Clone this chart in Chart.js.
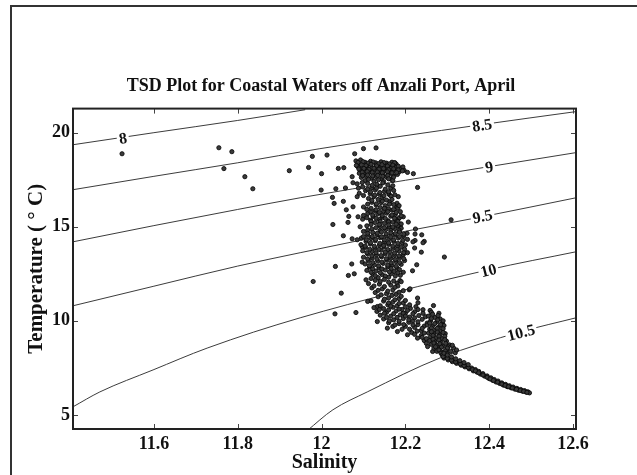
<!DOCTYPE html>
<html>
<head>
<meta charset="utf-8">
<script src="https://cdn.jsdelivr.net/npm/chart.js@4.4.1/dist/chart.umd.min.js"></script>
<style>
  html, body { margin: 0; padding: 0; background: #fff; }
  canvas { display: block; }
</style>
</head>
<body>
<canvas id="tsd" width="637" height="475"></canvas>
<script>
// Axis ticks
// --------------------------------------------
const salTicks = [11.6, 11.8, 12, 12.2, 12.4, 12.6]
const tempTicks = [5, 10, 15, 20]

// Density (sigma-t) contours
// --------------------------------------------
const sigmaLevels = ['8', '8.5', '9', '9.5', '10', '10.5']
const sigma8Sal = [11.407, 11.6, 11.8, 11.961]
const sigma8Temp = [19.36, 20.0, 20.65, 21.22]
const sigma85Sal = [11.407, 11.6, 11.8, 11.996, 12.383, 12.607]
const sigma85Temp = [16.97, 17.68, 18.40, 19.15, 20.43, 21.12]
const sigma9Sal = [11.407, 11.6, 11.8, 11.949, 12.2, 12.398, 12.607]
const sigma9Temp = [14.20, 15.06, 15.92, 16.54, 17.47, 18.19, 18.94]
const sigma95Sal = [11.407, 11.6, 11.8, 11.949, 12.2, 12.383, 12.607]
const sigma95Temp = [10.80, 11.84, 12.91, 13.62, 14.76, 15.53, 16.54]
const sigma10Sal = [11.407, 11.471, 11.598, 11.727, 11.949, 12.398, 12.607]
const sigma10Temp = [5.43, 6.22, 7.39, 8.55, 10.16, 12.71, 13.67]
const sigma105Sal = [11.965, 12.027, 12.109, 12.283, 12.474, 12.607]
const sigma105Temp = [4.15, 5.27, 6.22, 8.03, 9.41, 10.16]

// where the contour labels sit
const labelSal = [11.526, 12.383, 12.400, 12.384, 12.398, 12.476]
const labelTemp = [19.70, 20.40, 18.18, 15.55, 12.68, 9.38]

// Observations [salinity, temperature]
// --------------------------------------------
const outliers = [
  [11.524, 18.88], [11.755, 19.20], [11.786, 18.99], [11.767, 18.09], [11.817, 17.66], [11.836, 17.02],
  [11.923, 17.98], [11.969, 18.15], [11.978, 18.74], [12.000, 17.82], [12.013, 18.81], [11.999, 16.95],
  [12.026, 16.56], [12.030, 16.24], [12.027, 15.12], [12.040, 18.10], [12.053, 18.14], [12.034, 17.02],
  [12.057, 17.06], [12.052, 16.35], [12.059, 15.90], [12.065, 15.55], [12.063, 15.23], [12.052, 14.52],
  [12.073, 14.36], [12.079, 18.88], [12.100, 19.15], [12.130, 19.19], [12.197, 18.00], [12.205, 17.89],
  [12.219, 17.82], [12.175, 18.40], [12.229, 17.09], [12.162, 16.70], [12.183, 16.60], [12.195, 15.53],
  [12.183, 15.41], [12.207, 15.25], [12.224, 14.88], [12.223, 14.61], [12.239, 14.57], [12.245, 14.22],
  [12.223, 14.27], [12.309, 15.37], [12.293, 13.39], [11.980, 12.09], [12.033, 12.89], [12.072, 13.02],
  [12.047, 11.47], [12.032, 10.37], [12.082, 10.44], [12.064, 12.41], [12.078, 12.50], [12.097, 13.12],
  [12.222, 13.87], [12.238, 13.65], [12.227, 12.98], [12.217, 12.66], [12.209, 11.65], [12.229, 11.21],
  [12.267, 10.81], [12.073, 17.66], [12.075, 17.34], [12.085, 16.60], [12.075, 16.06], [12.087, 15.53],
  [12.092, 15.00], [12.085, 14.31], [12.097, 13.94], [12.180, 16.06], [12.187, 15.00], [12.218, 14.20],
  [12.242, 14.15], [12.118, 11.06], [12.110, 11.03], [12.133, 10.76], [12.180, 12.00], [12.187, 12.14],
  [12.211, 11.70], [12.230, 10.96], [12.242, 10.59], [12.259, 10.55]
]

const upperCluster = [
  [12.082, 18.50], [12.093, 18.55], [12.104, 18.42], [12.117, 18.48], [12.129, 18.40], [12.142, 18.45],
  [12.155, 18.38], [12.168, 18.43], [12.088, 18.35], [12.110, 18.30], [12.135, 18.28], [12.160, 18.27],
  [12.178, 18.33], [12.086, 18.20], [12.097, 18.12], [12.108, 18.22], [12.120, 18.15], [12.131, 18.21],
  [12.143, 18.12], [12.154, 18.18], [12.166, 18.10], [12.177, 18.16], [12.188, 18.08], [12.092, 17.98],
  [12.104, 18.03], [12.115, 17.95], [12.127, 18.02], [12.139, 17.94], [12.150, 18.00], [12.162, 17.93],
  [12.173, 17.99], [12.185, 17.91], [12.090, 17.84], [12.101, 17.78], [12.112, 17.86], [12.124, 17.76],
  [12.136, 17.83], [12.147, 17.74], [12.159, 17.80], [12.170, 17.72], [12.181, 17.78], [12.095, 17.62],
  [12.107, 17.68], [12.119, 17.58], [12.131, 17.64], [12.143, 17.55], [12.155, 17.63], [12.166, 17.52],
  [12.104, 17.45], [12.125, 17.42], [12.148, 17.40], [12.170, 17.46],
  [12.087, 18.42], [12.099, 18.46], [12.111, 18.38], [12.123, 18.44], [12.136, 18.35], [12.149, 18.41],
  [12.162, 18.34], [12.174, 18.40], [12.083, 18.26], [12.095, 18.29], [12.106, 18.25], [12.118, 18.32],
  [12.131, 18.24], [12.144, 18.30], [12.157, 18.23], [12.170, 18.28], [12.183, 18.22], [12.194, 18.18],
  [12.089, 18.07], [12.101, 18.10], [12.113, 18.05], [12.125, 18.11], [12.137, 18.06], [12.148, 18.09],
  [12.160, 18.03], [12.172, 18.08], [12.183, 18.02], [12.193, 17.97], [12.097, 17.90], [12.109, 17.93],
  [12.121, 17.88], [12.133, 17.91], [12.145, 17.87], [12.157, 17.92], [12.168, 17.86], [12.179, 17.88],
  [12.098, 17.72], [12.110, 17.75], [12.122, 17.70], [12.134, 17.73], [12.146, 17.68], [12.158, 17.72],
  [12.172, 17.64], [12.112, 17.52], [12.136, 17.50], [12.160, 17.55]
]

const column = [
  [12.085, 17.28], [12.110, 17.30], [12.132, 17.25], [12.158, 17.22], [12.098, 17.12], [12.120, 17.08],
  [12.140, 17.15], [12.165, 17.05], [12.105, 16.92], [12.128, 16.95], [12.150, 16.88], [12.172, 16.93],
  [12.090, 16.78], [12.116, 16.75], [12.138, 16.72], [12.160, 16.78], [12.125, 16.60], [12.145, 16.55],
  [12.166, 16.62], [12.135, 16.45], [12.155, 16.42], [12.112, 16.50], [12.120, 16.30], [12.142, 16.28],
  [12.163, 16.33], [12.180, 16.25], [12.130, 16.15], [12.152, 16.12], [12.172, 16.18], [12.100, 16.05],
  [12.118, 15.98], [12.140, 16.02], [12.160, 15.95], [12.182, 15.99], [12.128, 15.85], [12.148, 15.82],
  [12.168, 15.88], [12.188, 15.80], [12.110, 15.70], [12.134, 15.68], [12.155, 15.72], [12.176, 15.65],
  [12.123, 15.55], [12.144, 15.50], [12.165, 15.56], [12.186, 15.48], [12.098, 15.40], [12.117, 15.35],
  [12.138, 15.38], [12.159, 15.32], [12.178, 15.36], [12.128, 15.22], [12.150, 15.18], [12.170, 15.24],
  [12.190, 15.15], [12.108, 15.05], [12.140, 15.02], [12.162, 14.98], [12.182, 15.05], [12.120, 14.88],
  [12.153, 14.85], [12.175, 14.90],
  [12.097, 17.35], [12.121, 17.20], [12.146, 17.33], [12.170, 17.18], [12.088, 17.05], [12.110, 17.00],
  [12.131, 17.05], [12.152, 17.00], [12.117, 16.85], [12.139, 16.82], [12.160, 16.86], [12.100, 16.66],
  [12.127, 16.68], [12.149, 16.65], [12.175, 16.70], [12.120, 16.40], [12.145, 16.36], [12.168, 16.45],
  [12.110, 16.20], [12.131, 16.22], [12.162, 16.20], [12.185, 16.12], [12.108, 15.92], [12.130, 15.90],
  [12.150, 15.98], [12.172, 15.92], [12.118, 15.78], [12.138, 15.76], [12.158, 15.80], [12.178, 15.76],
  [12.100, 15.60], [12.122, 15.62], [12.145, 15.60], [12.168, 15.62], [12.190, 15.58], [12.108, 15.48],
  [12.130, 15.45], [12.152, 15.44], [12.174, 15.45], [12.118, 15.28], [12.140, 15.28], [12.160, 15.26],
  [12.182, 15.28], [12.118, 15.12], [12.138, 15.12], [12.160, 15.10], [12.178, 15.14], [12.130, 14.95],
  [12.150, 14.95], [12.170, 14.98], [12.190, 14.92], [12.110, 14.82], [12.140, 14.80], [12.165, 14.80],
  [12.185, 14.82]
]

const midCluster = [
  [12.100, 14.75], [12.122, 14.70], [12.143, 14.73], [12.165, 14.68], [12.186, 14.72], [12.204, 14.65],
  [12.110, 14.55], [12.132, 14.58], [12.154, 14.52], [12.175, 14.55], [12.196, 14.50], [12.095, 14.40],
  [12.118, 14.38], [12.140, 14.42], [12.161, 14.35], [12.183, 14.40], [12.205, 14.33], [12.106, 14.22],
  [12.128, 14.25], [12.150, 14.18], [12.172, 14.22], [12.192, 14.15], [12.094, 14.05], [12.116, 14.08],
  [12.138, 14.02], [12.160, 14.06], [12.181, 13.98], [12.200, 14.03], [12.105, 13.90], [12.127, 13.86],
  [12.149, 13.92], [12.170, 13.85], [12.098, 13.72], [12.120, 13.68], [12.142, 13.75], [12.163, 13.66],
  [12.185, 13.70], [12.205, 13.62], [12.110, 13.55], [12.131, 13.50], [12.152, 13.56], [12.174, 13.48],
  [12.195, 13.52], [12.100, 13.38], [12.121, 13.35], [12.143, 13.40], [12.165, 13.32], [12.186, 13.36],
  [12.112, 13.20], [12.134, 13.18], [12.156, 13.22], [12.177, 13.15], [12.198, 13.20], [12.104, 13.02],
  [12.126, 12.98], [12.147, 13.05], [12.168, 12.95], [12.190, 13.00], [12.115, 12.85], [12.137, 12.82],
  [12.158, 12.88], [12.180, 12.80], [12.108, 12.68], [12.130, 12.65], [12.152, 12.70], [12.173, 12.62],
  [12.195, 12.58], [12.122, 12.48], [12.145, 12.45], [12.166, 12.50], [12.188, 12.42], [12.135, 12.30],
  [12.160, 12.32],
  [12.110, 14.65], [12.133, 14.66], [12.154, 14.62], [12.176, 14.64], [12.196, 14.60], [12.100, 14.48],
  [12.121, 14.48], [12.143, 14.47], [12.165, 14.45], [12.186, 14.48], [12.107, 14.31], [12.129, 14.32],
  [12.150, 14.30], [12.172, 14.30], [12.194, 14.28], [12.117, 14.15], [12.139, 14.12], [12.160, 14.14],
  [12.182, 14.12], [12.104, 13.97], [12.126, 13.96], [12.148, 14.00], [12.170, 13.97], [12.190, 13.92],
  [12.115, 13.80], [12.137, 13.80], [12.158, 13.79], [12.180, 13.80], [12.198, 13.80], [12.108, 13.62],
  [12.130, 13.62], [12.152, 13.65], [12.174, 13.60], [12.196, 13.62], [12.120, 13.45], [12.142, 13.47],
  [12.163, 13.44], [12.185, 13.45], [12.110, 13.28], [12.132, 13.28], [12.154, 13.30], [12.176, 13.26],
  [12.196, 13.30], [12.122, 13.10], [12.144, 13.12], [12.166, 13.08], [12.186, 13.10], [12.114, 12.93],
  [12.136, 12.92], [12.158, 12.96], [12.178, 12.90], [12.122, 12.76], [12.144, 12.76], [12.166, 12.78],
  [12.186, 12.72], [12.118, 12.58], [12.140, 12.56], [12.162, 12.60], [12.182, 12.55], [12.128, 12.40],
  [12.152, 12.38], [12.176, 12.38]
]

const lowerCluster = [
  [12.106, 12.18], [12.128, 12.15], [12.150, 12.20], [12.172, 12.12], [12.190, 12.08], [12.112, 11.98],
  [12.138, 11.95], [12.165, 11.90], [12.182, 11.85], [12.120, 11.75], [12.145, 11.70], [12.170, 11.65],
  [12.195, 11.60], [12.128, 11.50], [12.155, 11.45], [12.178, 11.40], [12.135, 11.28], [12.160, 11.22],
  [12.185, 11.18], [12.148, 11.05], [12.170, 11.00], [12.195, 10.95], [12.158, 10.85], [12.180, 10.80],
  [12.125, 10.70], [12.148, 10.65], [12.170, 10.72], [12.192, 10.60], [12.212, 10.66], [12.132, 10.50],
  [12.155, 10.45], [12.178, 10.52], [12.200, 10.40], [12.222, 10.48], [12.140, 10.30], [12.165, 10.25],
  [12.188, 10.32], [12.210, 10.20], [12.232, 10.28], [12.148, 10.10], [12.172, 10.05], [12.195, 10.12],
  [12.218, 10.00], [12.240, 10.08], [12.133, 9.96], [12.160, 9.90], [12.185, 9.85], [12.208, 9.92],
  [12.230, 9.80], [12.252, 9.88], [12.157, 9.61], [12.170, 9.70], [12.200, 9.70], [12.222, 9.65],
  [12.245, 9.72], [12.181, 9.43], [12.192, 9.55], [12.215, 9.38], [12.238, 9.48], [12.205, 9.26],
  [12.238, 9.22], [12.229, 9.08], [12.245, 8.95], [12.250, 8.80], [12.253, 8.63], [12.265, 8.37],
  [12.118, 12.25], [12.140, 12.10], [12.160, 12.05], [12.125, 11.85], [12.150, 11.82], [12.175, 11.78],
  [12.135, 11.62], [12.158, 11.58], [12.185, 11.52], [12.142, 11.38], [12.168, 11.35], [12.190, 11.30],
  [12.150, 11.15], [12.175, 11.12], [12.200, 11.08], [12.160, 10.95], [12.185, 10.92], [12.210, 10.85],
  [12.140, 10.80], [12.165, 10.78], [12.200, 10.75], [12.225, 10.75], [12.138, 10.60], [12.160, 10.58],
  [12.185, 10.62], [12.205, 10.55], [12.230, 10.60], [12.150, 10.40], [12.172, 10.38], [12.195, 10.40],
  [12.218, 10.38], [12.242, 10.40], [12.155, 10.18], [12.180, 10.18], [12.200, 10.25], [12.222, 10.16],
  [12.248, 10.22], [12.162, 10.00], [12.185, 9.98], [12.208, 10.05], [12.230, 9.95], [12.175, 9.78],
  [12.196, 9.80], [12.218, 9.78], [12.240, 9.60], [12.210, 9.55], [12.228, 9.45], [12.245, 9.35],
  [12.222, 9.28], [12.240, 9.12], [12.250, 9.05]
]

const blob = [
  [12.262, 10.45], [12.280, 10.40], [12.255, 10.25], [12.270, 10.18], [12.283, 10.10], [12.260, 10.00],
  [12.275, 9.95], [12.288, 9.88], [12.252, 9.78], [12.265, 9.72], [12.280, 9.68], [12.292, 9.75],
  [12.258, 9.55], [12.272, 9.50], [12.285, 9.45], [12.255, 9.35], [12.268, 9.30], [12.282, 9.25],
  [12.295, 9.32], [12.260, 9.15], [12.274, 9.10], [12.288, 9.05], [12.258, 8.95], [12.270, 8.90],
  [12.284, 8.85], [12.298, 8.92], [12.262, 8.75], [12.276, 8.70], [12.290, 8.65], [12.305, 8.72],
  [12.268, 8.55], [12.282, 8.50], [12.298, 8.45], [12.315, 8.55], [12.275, 8.38], [12.290, 8.32],
  [12.302, 8.62], [12.319, 8.30], [12.312, 8.70], [12.322, 8.45],
  [12.265, 10.35], [12.278, 10.28], [12.262, 10.12], [12.277, 10.05], [12.290, 10.00], [12.258, 9.88],
  [12.270, 9.85], [12.284, 9.80], [12.262, 9.62], [12.276, 9.60], [12.290, 9.58], [12.262, 9.42],
  [12.276, 9.40], [12.290, 9.38], [12.266, 9.22], [12.280, 9.18], [12.294, 9.18], [12.266, 9.02],
  [12.280, 8.98], [12.294, 9.00], [12.268, 8.82], [12.282, 8.78], [12.296, 8.80], [12.272, 8.62],
  [12.286, 8.60], [12.300, 8.55], [12.280, 8.45], [12.295, 8.40], [12.308, 8.38], [12.285, 8.28],
  [12.300, 8.25]
]

const tail = [
  [12.288, 8.18], [12.292, 8.02], [12.298, 8.08], [12.302, 7.92], [12.308, 7.98], [12.312, 7.83],
  [12.318, 7.89], [12.322, 7.74], [12.329, 7.79], [12.333, 7.64], [12.338, 7.70], [12.342, 7.55],
  [12.348, 7.60], [12.352, 7.45], [12.358, 7.49], [12.362, 7.34], [12.367, 7.41], [12.371, 7.27],
  [12.375, 7.31], [12.379, 7.17], [12.385, 7.19], [12.389, 7.06], [12.395, 7.07], [12.399, 6.94],
  [12.404, 6.97], [12.408, 6.84], [12.412, 6.88], [12.416, 6.75], [12.421, 6.80], [12.425, 6.67],
  [12.430, 6.70], [12.434, 6.58], [12.439, 6.62], [12.443, 6.50], [12.448, 6.55], [12.452, 6.44],
  [12.457, 6.48], [12.461, 6.37], [12.466, 6.41], [12.470, 6.31], [12.475, 6.35], [12.479, 6.26],
  [12.484, 6.29], [12.488, 6.21], [12.492, 6.23], [12.496, 6.17],
  [12.290, 8.10], [12.300, 8.00], [12.310, 7.91], [12.320, 7.81], [12.331, 7.71], [12.340, 7.62],
  [12.350, 7.52], [12.360, 7.41], [12.367, 7.34], [12.375, 7.24], [12.385, 7.12], [12.395, 7.00],
  [12.402, 6.91], [12.410, 6.83], [12.420, 6.74], [12.430, 6.64], [12.438, 6.57], [12.446, 6.50],
  [12.455, 6.43], [12.465, 6.36], [12.474, 6.30], [12.482, 6.25], [12.490, 6.20],
  [12.292, 8.28], [12.300, 8.18], [12.310, 8.08], [12.320, 7.98], [12.330, 7.88], [12.340, 7.78],
  [12.350, 7.67]
]

// Build datasets
// --------------------------------------------
const serif = "'Liberation Serif', 'Times New Roman', serif"
const ink = '#111'

const observations = [].concat(outliers, upperCluster, column, midCluster, lowerCluster, blob, tail)
  .map(p => ({ x: p[0], y: p[1] }))

const contourSal = [sigma8Sal, sigma85Sal, sigma9Sal, sigma95Sal, sigma10Sal, sigma105Sal]
const contourTemp = [sigma8Temp, sigma85Temp, sigma9Temp, sigma95Temp, sigma10Temp, sigma105Temp]

const datasets = [{
  type: 'scatter',
  label: 'observations',
  data: observations,
  pointRadius: 2.1,
  pointBorderWidth: 0.9,
  pointBackgroundColor: '#3a3a3a',
  pointBorderColor: '#0a0a0a',
  order: 0
}]

contourSal.forEach((sal, i) => {
  datasets.push({
    type: 'line',
    label: sigmaLevels[i],
    data: sal.map((s, j) => ({ x: s, y: contourTemp[i][j] })),
    borderColor: '#3c3c3c',
    borderWidth: 1,
    pointRadius: 0,
    fill: false,
    cubicInterpolationMode: 'monotone',
    order: 1
  })
})

// Inline contour labels (drawn on top of the lines, below the dots)
// --------------------------------------------
const contourLabels = {
  id: 'contourLabels',
  beforeDatasetDraw(chart, args) {
    if (args.index !== 0) return
    const { ctx, scales: { x, y } } = chart
    ctx.save()
    ctx.font = 'bold 16px ' + serif
    ctx.textAlign = 'center'
    ctx.textBaseline = 'middle'
    sigmaLevels.forEach((txt, i) => {
      const sal = contourSal[i], tmp = contourTemp[i]
      let j = 0
      while (j < sal.length - 2 && sal[j + 1] < labelSal[i]) j++
      const ang = Math.atan2(
        y.getPixelForValue(tmp[j + 1]) - y.getPixelForValue(tmp[j]),
        x.getPixelForValue(sal[j + 1]) - x.getPixelForValue(sal[j]))
      const px = x.getPixelForValue(labelSal[i])
      const py = y.getPixelForValue(labelTemp[i])
      const w = ctx.measureText(txt).width
      ctx.save()
      ctx.translate(px, py)
      ctx.rotate(ang)
      ctx.fillStyle = '#fff'
      ctx.fillRect(-w / 2 - 2, -6, w + 4, 13)
      ctx.fillStyle = ink
      ctx.fillText(txt, 0, 1)
      ctx.restore()
    })
    ctx.restore()
  }
}

// Outer frame, plot box and inward ticks
// --------------------------------------------
const framePlugin = {
  id: 'frame',
  beforeDraw(chart) {
    const ctx = chart.ctx
    ctx.save()
    ctx.fillStyle = '#fff'
    ctx.fillRect(0, 0, chart.width, chart.height)
    ctx.strokeStyle = '#333'
    ctx.lineWidth = 2
    ctx.beginPath()
    ctx.moveTo(11, chart.height)
    ctx.lineTo(11, 6)
    ctx.lineTo(chart.width, 6)
    ctx.stroke()
    ctx.restore()
  },
  afterDraw(chart) {
    const { ctx, chartArea: a, scales: { x, y } } = chart
    ctx.save()
    ctx.strokeStyle = '#444'
    ctx.lineWidth = 1
    ctx.beginPath()
    for (const v of salTicks) {
      const px = Math.round(x.getPixelForValue(v)) + 0.5
      ctx.moveTo(px, a.bottom); ctx.lineTo(px, a.bottom - 5)
      ctx.moveTo(px, a.top); ctx.lineTo(px, a.top + 5)
    }
    for (const v of tempTicks) {
      const py = Math.round(y.getPixelForValue(v)) + 0.5
      ctx.moveTo(a.left, py); ctx.lineTo(a.left + 5, py)
      ctx.moveTo(a.right, py); ctx.lineTo(a.right - 5, py)
    }
    ctx.stroke()
    ctx.strokeStyle = '#222'
    ctx.lineWidth = 2
    ctx.strokeRect(a.left, a.top, a.right - a.left, a.bottom - a.top)
    ctx.restore()
  }
}

new Chart(document.getElementById('tsd'), {
  type: 'scatter',
  data: { datasets: datasets },
  plugins: [framePlugin, contourLabels],
  options: {
    responsive: false,
    animation: false,
    devicePixelRatio: 1,
    layout: { padding: { left: 5, right: 0, top: 0, bottom: 0 } },
    plugins: {
      legend: { display: false },
      tooltip: { enabled: false },
      title: {
        display: true,
        text: 'TSD Plot for Coastal Waters off Anzali Port, April',
        color: ink,
        font: { family: serif, size: 18, weight: 'bold' },
        padding: { top: 76, bottom: 11 }
      }
    },
    scales: {
      x: {
        type: 'linear',
        min: 11.407,
        max: 12.607,
        afterBuildTicks: s => { s.ticks = salTicks.map(v => ({ value: v })) },
        afterFit: s => { s.height = 46 },
        grid: { display: false, drawTicks: false },
        border: { display: false },
        ticks: {
          autoSkip: false, maxRotation: 0, padding: 5, color: ink,
          font: { family: serif, size: 18, weight: 'bold' },
          callback: v => String(v)
        },
        title: {
          display: true, text: 'Salinity', color: ink,
          font: { family: serif, size: 20, weight: 'bold' },
          padding: { top: 0, bottom: 0 }
        }
      },
      y: {
        type: 'linear',
        min: 4.25,
        max: 21.28,
        afterBuildTicks: s => { s.ticks = tempTicks.map(v => ({ value: v })) },
        afterFit: s => { s.width = 68 },
        grid: { display: false, drawTicks: false },
        border: { display: false },
        ticks: {
          autoSkip: false, padding: 3, color: ink,
          font: { family: serif, size: 18, weight: 'bold' },
          callback: v => String(v)
        },
        title: {
          display: true, text: 'Temperature ( ° C)', color: ink,
          font: { family: serif, size: 21, weight: 'bold' },
          padding: { top: 19, bottom: 0 }
        }
      },
      // empty right-hand margin so the title centres over the figure
      yRight: {
        type: 'linear',
        position: 'right',
        display: true,
        afterFit: s => { s.width = 61 },
        grid: { display: false, drawTicks: false },
        border: { display: false },
        ticks: { display: false }
      }
    }
  }
})
</script>
</body>
</html>
